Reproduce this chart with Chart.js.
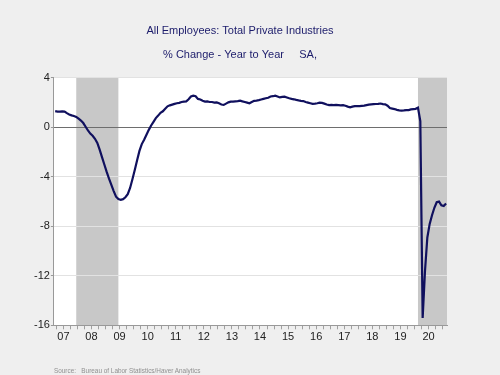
<!DOCTYPE html>
<html>
<head>
<meta charset="utf-8">
<script src="https://cdn.jsdelivr.net/npm/chart.js@4"></script>
<style>
  html, body { margin: 0; padding: 0; background: #efefef; }
  #wrap { position: relative; width: 500px; height: 375px; }
  #note {
    position: absolute; left: 54px; top: 367px;
    font: 6.4px "Liberation Sans", Arial, sans-serif; color: #909090;
    white-space: pre;
  }
</style>
</head>
<body>
<div id="wrap">
  <canvas id="chart" width="500" height="375"></canvas>
  <div id="note">Source:   Bureau of Labor Statistics/Haver Analytics</div>
</div>
<script>
// monthly YoY % change, Mar 2007 .. Feb 2021
const startMonth = "2007-03";
const values = [
  // 2007 (Mar-Dec)
  1.32, 1.28, 1.27, 1.3, 1.28, 1.15, 1.05, 0.97, 0.92, 0.85,
  // 2008
  0.7, 0.55, 0.35, 0.05, -0.25, -0.5, -0.68, -0.92, -1.25, -1.8, -2.4, -3.0,
  // 2009
  -3.6, -4.15, -4.65, -5.15, -5.6, -5.8, -5.85, -5.8, -5.65, -5.4, -4.9, -4.2,
  // 2010
  -3.45, -2.65, -1.9, -1.35, -1.0, -0.6, -0.2, 0.15, 0.45, 0.75, 0.95, 1.18,
  // 2011
  1.3, 1.5, 1.7, 1.78, 1.84, 1.9, 1.95, 1.98, 2.05, 2.08, 2.1, 2.27,
  // 2012
  2.5, 2.56, 2.52, 2.3, 2.25, 2.15, 2.08, 2.1, 2.05, 2.05, 2.0, 2.02,
  // 2013
  1.95, 1.85, 1.82, 1.92, 2.02, 2.08, 2.08, 2.1, 2.12, 2.16, 2.1, 2.05,
  // 2014
  2.0, 1.95, 2.05, 2.15, 2.16, 2.2, 2.25, 2.3, 2.35, 2.4, 2.5, 2.52,
  // 2015
  2.56, 2.5, 2.42, 2.46, 2.48, 2.42, 2.35, 2.3, 2.27, 2.22, 2.18, 2.15,
  // 2016
  2.13, 2.05, 2.0, 1.95, 1.9, 1.92, 1.95, 2.0, 1.98, 1.92, 1.85, 1.8,
  // 2017
  1.82, 1.8, 1.82, 1.8, 1.78, 1.8, 1.75, 1.68, 1.62, 1.68, 1.72, 1.73,
  // 2018
  1.72, 1.74, 1.76, 1.8, 1.84, 1.86, 1.88, 1.89, 1.9, 1.93, 1.88, 1.86,
  // 2019
  1.75, 1.56, 1.52, 1.48, 1.42, 1.38, 1.35, 1.37, 1.4, 1.4, 1.45, 1.48,
  // 2020
  1.5, 1.6, 0.5, -15.4, -11.6, -8.9, -7.8, -7.1, -6.5, -6.05, -6.0, -6.3,
  // 2021 (Jan-Feb)
  -6.35, -6.15,
];
const recessions = [["2007-12", "2009-06"], ["2020-02", null]];
const firstYear = 2007;
const lastYear = 2020;
const yTicks = [4, 0, -4, -8, -12, -16];

// month index, Jan 2007 = 0
const monthIndex = (s) => {
  const [y, m] = s.split("-").map(Number);
  return (y - firstYear) * 12 + (m - 1);
};

const points = values.map((v, i) => ({ x: monthIndex(startMonth) + i, y: v }));

const xMin = 1.45;
const xMax = 169.4;

const shading = {
  id: "shading",
  beforeDraw(chart) {
    const { ctx, chartArea: a, scales } = chart;
    ctx.save();
    ctx.fillStyle = "#ffffff";
    ctx.fillRect(a.left, a.top, a.right - a.left, a.bottom - a.top);
    ctx.fillStyle = "#c8c8c8";
    recessions.forEach(([s, e]) => {
      const x0 = scales.x.getPixelForValue(monthIndex(s));
      const x1 = e ? scales.x.getPixelForValue(monthIndex(e)) : a.right;
      ctx.fillRect(x0, a.top, x1 - x0, a.bottom - a.top);
    });
    ctx.restore();
  },
};

const font = { family: "'Liberation Sans', Arial, sans-serif", size: 11 };

new Chart(document.getElementById("chart"), {
  type: "line",
  data: {
    datasets: [
      {
        data: points,
        borderColor: "#10105e",
        borderWidth: 2.2,
        pointRadius: 0,
        tension: 0,
      },
    ],
  },
  options: {
    responsive: false,
    animation: false,
    layout: { padding: { left: 33, right: 53, top: 0, bottom: 30.5 } },
    plugins: {
      legend: { display: false },
      tooltip: { enabled: false },
      title: {
        display: true,
        text: "All Employees: Total Private Industries",
        color: "#1c1c6b",
        font: { ...font, weight: "normal" },
        padding: { top: 24, bottom: 11 },
      },
      subtitle: {
        display: true,
        text: "% Change - Year to Year     SA,",
        color: "#1c1c6b",
        font: { ...font },
        padding: { top: 0, bottom: 16.5 },
      },
    },
    scales: {
      x: {
        type: "linear",
        min: xMin,
        max: xMax,
        afterBuildTicks: (scale) => {
          const ticks = [];
          for (let v = -0.5; v <= xMax; v += 3) {
            if (v >= xMin) ticks.push({ value: v });
          }
          scale.ticks = ticks;
        },
        ticks: {
          autoSkip: false,
          maxRotation: 0,
          padding: 1,
          color: "#222",
          font,
          callback: (v) => {
            const r = ((v - 5.5) % 12 + 12) % 12;
            if (r !== 0) return "";
            const yr = firstYear + (v - 5.5) / 12;
            return yr <= lastYear ? String(yr).slice(2) : "";
          },
        },
        grid: { drawOnChartArea: false, tickLength: 4, color: "#a0a0a0" },
        border: { color: "#999" },
      },
      y: {
        min: -16,
        max: 4,
        afterBuildTicks: (scale) => {
          scale.ticks = yTicks.map((v) => ({ value: v }));
        },
        ticks: { padding: 1, color: "#222", font },
        grid: {
          tickLength: 3,
          color: (c) => (c.tick && c.tick.value === 0 ? "#6e6e6e" : "#e2e2e2"),
          tickColor: "#999",
        },
        border: { color: "#999" },
      },
    },
  },
  plugins: [shading],
});
</script>
</body>
</html>
